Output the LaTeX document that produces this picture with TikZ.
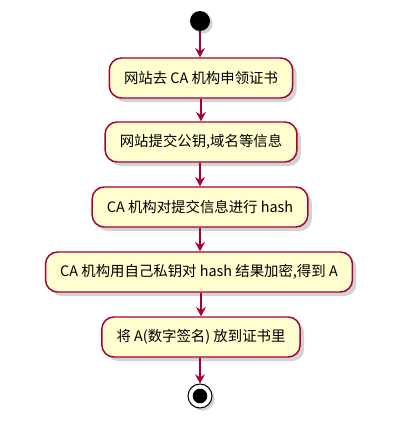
\documentclass[tikz,border=0pt]{standalone}
\usepackage{fontspec}
\setmainfont{Noto Sans CJK SC}
\usepackage{tikz}
\usetikzlibrary{arrows.meta,shadows}
\definecolor{umlred}{HTML}{A80036}
\definecolor{umlfill}{HTML}{FEFECE}

\begin{document}
\begin{tikzpicture}[x=0.75pt,y=-0.75pt,
  act/.style={draw=umlred,fill=umlfill,line width=1.1pt,rounded corners=9pt,
    minimum height=30pt,inner xsep=11pt,font=\fontsize{10.8pt}{12pt}\selectfont,
    drop shadow={shadow xshift=3pt,shadow yshift=-3pt,opacity=0.35,fill=gray}},
  flow/.style={draw=umlred,line width=1.1pt,
    -{Stealth[length=7pt,width=7.5pt,inset=2.5pt]}}]
\useasboundingbox (0,0) rectangle (417,428);

\node[circle,fill=black,minimum size=15pt,inner sep=0pt,
  drop shadow={shadow xshift=2pt,shadow yshift=-2pt,opacity=0.35,fill=gray}] (start) at (200,21) {};

\node[act] (a1) at (201,78) {网站去 CA 机构申领证书};
\node[act] (a2) at (201,142) {网站提交公钥,域名等信息};
\node[act] (a3) at (200,207) {CA 机构对提交信息进行 hash};
\node[act] (a4) at (199,272) {CA 机构用自己私钥对 hash 结果加密,得到 A};
\node[act] (a5) at (201,337) {将 A(数字签名) 放到证书里};

\node[circle,draw=black,fill=white,line width=0.8pt,minimum size=18pt,inner sep=0pt,
  drop shadow={shadow xshift=2pt,shadow yshift=-2pt,opacity=0.35,fill=gray}] (stop) at (200,396) {};
\node[circle,fill=black,minimum size=11pt,inner sep=0pt] (stopdot) at (stop) {};

\draw[flow] (start) -- (start |- a1.north);
\draw[flow] (a1) -- (a1 |- a2.north);
\draw[flow] (a2.south -| a3) -- (a3);
\draw[flow] (a3) -- (a3 |- a4.north);
\draw[flow] (a4.south -| a5) -- (a5);
\draw[flow] (a5.south -| stop) -- (stop);

\end{tikzpicture}
\end{document}
